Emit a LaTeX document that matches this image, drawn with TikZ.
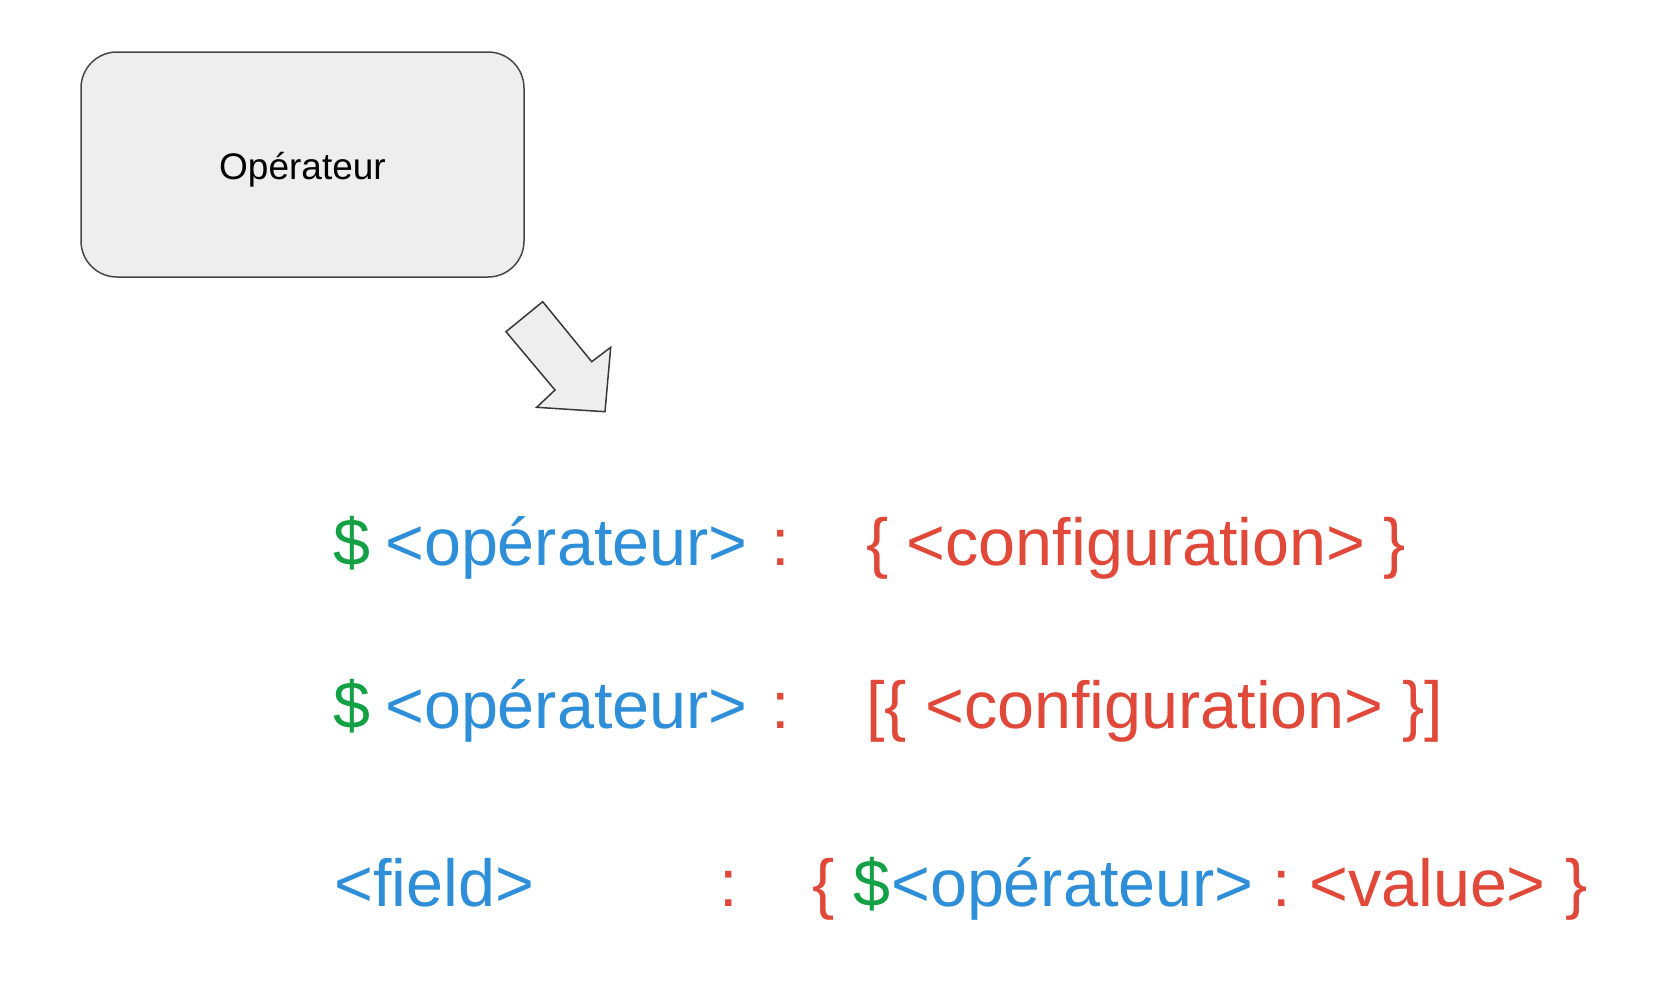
\documentclass[tikz,border=0pt]{standalone}
\usepackage{fontspec}
\setmainfont{Liberation Sans}
\usepackage{xcolor}
\usepackage{tikz}
\usetikzlibrary{shapes,arrows}
\definecolor{opgreen}{HTML}{14A044}
\definecolor{opblue}{HTML}{2E8FD8}
\definecolor{opred}{HTML}{E0483A}
\definecolor{boxgray}{HTML}{EEEEEE}
\tikzstyle{block} = [rectangle, draw=black!72, line width=1.5pt, fill=boxgray, rounded corners=36pt, minimum width=443pt, minimum height=225pt, text height=37pt, text depth=8pt, font=\fontsize{37}{40}\selectfont]
\tikzstyle{syntax} = [anchor=base west, inner sep=0pt, font=\fontsize{66.5}{72}\selectfont]
\tikzstyle{dollar} = [syntax, text=opgreen]
\tikzstyle{opname} = [syntax, text=opblue]
\tikzstyle{opconf} = [syntax, text=opred]
\tikzstyle{bigarrow} = [draw=black!78, line width=1.5pt, fill=boxgray, line join=miter]

\begin{document}
\begin{tikzpicture}[x=1pt,y=-1pt]
\useasboundingbox (0,0) rectangle (1671,989);
\node [block] (operateur) at (302.5,164.5) {Opérateur};
% block arrow under the box
\coordinate (tail-top) at (542.7,301.7);
\coordinate (tail-left) at (506,331.7);
\coordinate (tip) at (605,411.7);
\path [bigarrow] (tail-top) -- (591.7,361.7) -- (610.7,347.3) -- (tip) -- (536.7,407.3) -- (555,390) -- (tail-left) -- cycle;
% first form
\node [dollar] (dollar-a) at (333,565) {\$};
\node [opname] (op-a) at (385,565) {<opérateur>};
\node [opconf, anchor=base] (colon-a) at (781,565) {:};
\node [opconf] (conf-a) at (866,565) {\{ <configuration> \}};
% second form
\node [dollar] (dollar-b) at (333,728) {\$};
\node [opname] (op-b) at (385,728) {<opérateur>};
\node [opconf, anchor=base] (colon-b) at (781,728) {:};
\node [opconf] (conf-b) at (866,728) {[\{ <configuration> \}]};
% field form
\node [opname] (field) at (334,906) {<field>};
\node [opconf, anchor=base] (colon-c) at (729,906) {:};
\node [opconf] (open-c) at (812,906) {\{};
\node [dollar] (dollar-c) at (853,906) {\$};
\node [opname] (op-c) at (891,906) {<opérateur>};
\node [opconf, anchor=base] (colon-d) at (1282,906) {:};
\node [opconf] (value) at (1309,906) {<value>};
\node [opconf] (close-c) at (1565,906) {\}};
\end{tikzpicture}
\end{document}
